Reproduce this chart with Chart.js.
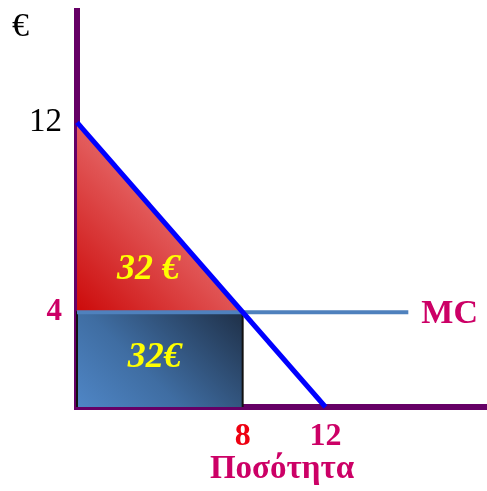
<!DOCTYPE html>
<html>
<head>
<meta charset="utf-8">
<script src="https://cdn.jsdelivr.net/npm/chart.js@4/dist/chart.umd.min.js"></script>
<style>
  body { margin: 0; background: #fff; }
  canvas { display: block; }
</style>
</head>
<body>
<canvas id="chart" width="487" height="491"></canvas>
<script>
// demand curve and marginal cost
const demandQ = [0, 12];
const demandP = [12, 0];
const mcQ = [0, 16];
const mcP = [4, 4];
// equilibrium
const eqQ = 8;
const eqP = 4;
// tick labels
const xTicks = [8, 12];
const yTicks = [4, 12];
// area labels (triangle, rectangle)
const areaLabels = ['32 €', '32€'];
const areaLabelPos = [[3.45, 5.8], [3.75, 2.1]];

const SERIF = '"Liberation Serif", "Times New Roman", serif';
const PURPLE = '#660066';
const MAGENTA = '#CC0066';

const pts = (xs, ys) => xs.map((x, i) => ({ x: x, y: ys[i] }));

// 45 degree gradient over the box (0,y0)-(eqQ,y1), light at bottom-left
function diagGrad(ctx, y0, y1, stops) {
  const chart = ctx.chart;
  if (!chart.chartArea) return null;
  const xs = chart.scales.x, ys = chart.scales.y;
  const left = xs.getPixelForValue(0), right = xs.getPixelForValue(eqQ);
  const bottom = ys.getPixelForValue(y0), top = ys.getPixelForValue(y1);
  const d = ((right - left) + (bottom - top)) / 2;
  const g = chart.ctx.createLinearGradient(left, bottom, left + d, bottom - d);
  stops.forEach(s => g.addColorStop(s[0], s[1]));
  return g;
}

const textPlugin = {
  id: 'texts',
  afterDatasetsDraw(chart) {
    const c = chart.ctx, xs = chart.scales.x, ys = chart.scales.y;
    c.save();
    c.textBaseline = 'middle';
    c.textAlign = 'center';
    c.fillStyle = '#FFFF00';
    c.font = 'italic bold 36px ' + SERIF;
    areaLabels.forEach((t, i) => {
      c.fillText(t, xs.getPixelForValue(areaLabelPos[i][0]), ys.getPixelForValue(areaLabelPos[i][1]));
    });
    // MC label
    c.textAlign = 'left';
    c.fillStyle = MAGENTA;
    c.font = 'bold 34px ' + SERIF;
    c.fillText('MC', xs.getPixelForValue(mcQ[1]) + 13, ys.getPixelForValue(mcP[1]) + 2);
    // euro sign at top of price axis
    c.fillStyle = '#000';
    c.font = '34px ' + SERIF;
    c.fillText('€', 12, 27);
    c.restore();
  }
};

new Chart(document.getElementById('chart'), {
  type: 'scatter',
  data: {
    datasets: [
      {
        data: pts(demandQ, demandP),
        showLine: true, borderColor: '#0000FF', borderWidth: 5,
        pointRadius: 0, order: 0, clip: false
      },
      {
        data: pts(mcQ, mcP),
        showLine: true, borderColor: '#4F81BD', borderWidth: 4,
        pointRadius: 0, order: 1, clip: false
      },
      {
        data: pts([0, 0, eqQ, eqQ], [0, eqP, eqP, 0]),
        showLine: true, borderColor: '#111', borderWidth: 2,
        pointRadius: 0, order: 2, clip: false
      },
      {
        data: pts([0, eqQ], [eqP, eqP]),
        showLine: true, borderWidth: 0, pointRadius: 0, order: 3,
        fill: 'origin',
        backgroundColor: ctx => diagGrad(ctx, 0, eqP,
          [[0, '#4F86C6'], [0.4, '#3F6DA2'], [1, '#1F3048']])
      },
      {
        data: pts([0, eqQ], [demandP[0], eqP]),
        showLine: true, borderWidth: 0, pointRadius: 0, order: 4,
        fill: { value: eqP },
        backgroundColor: ctx => diagGrad(ctx, eqP, demandP[0],
          [[0, '#CC0A0A'], [0.5, '#E25A5A'], [1, '#F09090']])
      }
    ]
  },
  options: {
    responsive: false,
    animation: false,
    layout: { padding: { top: 11, right: 0, left: 0, bottom: 0 } },
    plugins: { legend: { display: false }, tooltip: { enabled: false } },
    scales: {
      x: {
        type: 'linear', min: 0, max: 19.8,
        grid: { display: false, drawTicks: false },
        border: { color: PURPLE, width: 6 },
        afterBuildTicks: s => { s.ticks = xTicks.map(v => ({ value: v })); },
        afterFit: s => { s.height = 84; s.paddingLeft = 0; s.paddingRight = 0; },
        ticks: {
          padding: 11,
          color: ctx => ctx.tick && ctx.tick.value === 8 ? '#EE0011' : MAGENTA,
          font: { family: SERIF, size: 32, weight: 'bold' }
        },
        title: {
          display: true, text: 'Ποσότητα', color: MAGENTA,
          font: { family: SERIF, size: 33, weight: 'bold' },
          padding: { top: 0, bottom: 2 }
        }
      },
      y: {
        type: 'linear', min: 0, max: 16.7,
        grid: { display: false, drawTicks: false },
        border: { color: PURPLE, width: 6 },
        afterBuildTicks: s => { s.ticks = yTicks.map(v => ({ value: v })); },
        afterFit: s => { s.width = 77; s.paddingTop = 0; s.paddingBottom = 0; },
        ticks: {
          padding: 15,
          color: ctx => ctx.tick && ctx.tick.value === 4 ? MAGENTA : '#000',
          font: ctx => ({ family: SERIF, size: ctx.tick && ctx.tick.value === 4 ? 31 : 33,
                          weight: ctx.tick && ctx.tick.value === 4 ? 'bold' : 'normal' })
        }
      }
    }
  },
  plugins: [textPlugin]
});
</script>
</body>
</html>
